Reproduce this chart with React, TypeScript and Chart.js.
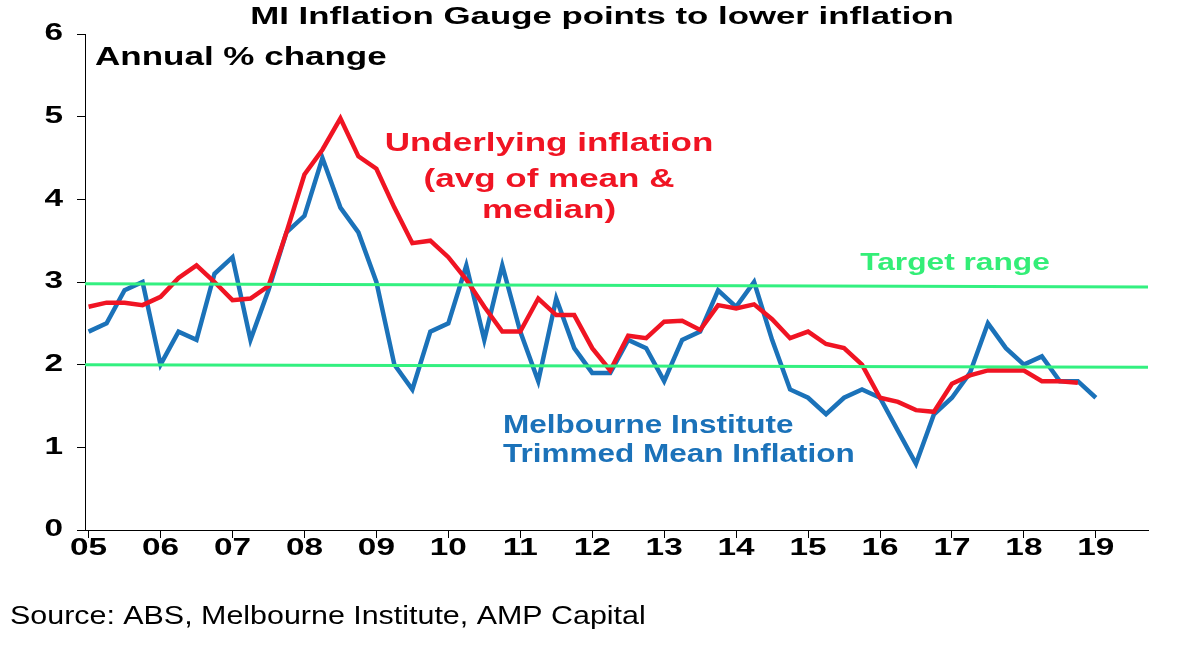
import React, { useEffect, useRef } from "react";
import { Chart, registerables } from "chart.js";
Chart.register(...registerables);

const yearLabels = ["05","06","07","08","09","10","11","12","13","14","15","16","17","18","19"];
const yLabels = ["0","1","2","3","4","5","6"];
const trimmedMean = [2.4,2.5,2.9,3.0, 2.0,2.4,2.3,3.1, 3.3,2.3,2.9,3.6, 3.8,4.5,3.9,3.6, 3.0,2.0,1.7,2.4, 2.5,3.2,2.3,3.2, 2.4,1.8,2.8,2.2, 1.9,1.9,2.3,2.2, 1.8,2.3,2.4,2.9, 2.7,3.0,2.3,1.7, 1.6,1.4,1.6,1.7, 1.6,1.2,0.8,1.4, 1.6,1.9,2.5,2.2, 2.0,2.1,1.8,1.8, 1.6];
const underlying = [2.7,2.75,2.75,2.72, 2.82,3.05,3.2,3.0, 2.78,2.8,2.95,3.6, 4.3,4.6,4.98,4.52, 4.37,3.9,3.47,3.5, 3.3,3.03,2.7,2.4, 2.4,2.8,2.6,2.6, 2.2,1.93,2.35,2.32, 2.52,2.53,2.42,2.72, 2.68,2.73,2.55,2.32, 2.4,2.25,2.2,2.0, 1.6,1.55,1.45,1.43, 1.77,1.87,1.93,1.93, 1.93,1.8,1.8,1.78];
const targetTop = [2.98, 2.94];
const targetBottom = [2.0, 1.97];

const FONT = "'Liberation Sans', Arial, sans-serif";

const textPlugin = {
  id: "texts",
  afterDraw(chart: any) {
    const c = chart.ctx;
    const t = (s: string, x: number, y: number, color: string, size: number, align: string, sx: number, bold = true) => {
      c.save();
      c.font = `${bold ? "bold " : ""}${size}px ${FONT}`;
      c.fillStyle = color;
      c.textBaseline = "middle";
      c.textAlign = "left";
      const w = c.measureText(s).width * sx;
      let x0 = x;
      if (align === "center") x0 = x - w / 2;
      else if (align === "right") x0 = x - w;
      c.translate(x0, y);
      c.scale(sx, 1);
      c.fillText(s, 0, 0);
      c.restore();
    };
    const xs = chart.scales.x, ys = chart.scales.y;
    yearLabels.forEach((l, i) => t(l, xs.getPixelForValue(i * 4), 549, "#000", 23, "center", 1.45));
    yLabels.forEach((l, i) => t(l, 63, ys.getPixelForValue(i), "#000", 23, "right", 1.45));
    t("MI Inflation Gauge points to lower inflation", 602, 17, "#000", 24, "center", 1.45);
    t("Annual % change", 95, 58, "#000", 25, "left", 1.4);
    const red = "#f01423";
    t("Underlying inflation", 549, 144, red, 25, "center", 1.4);
    t("(avg of mean &", 549, 180, red, 25, "center", 1.4);
    t("median)", 549, 211, red, 25, "center", 1.4);
    t("Target range", 955, 263, "#33ee77", 24, "center", 1.32);
    const blue = "#1b72b9";
    t("Melbourne Institute", 503, 426, blue, 25, "left", 1.26);
    t("Trimmed Mean Inflation", 503, 455, blue, 25, "left", 1.26);
    t("Source: ABS, Melbourne Institute, AMP Capital", 10, 617, "#000", 26, "left", 1.17, false);
  },
};

export default function App() {
  const ref = useRef<HTMLCanvasElement>(null);
  useEffect(() => {
    document.body.style.margin = "0";
    const xs = (arr: number[]) => arr.map((v, i) => ({ x: i, y: v }));
    const chart = new Chart(ref.current!, {
      type: "line",
      data: {
        datasets: [
          { data: [{ x: -0.2, y: targetTop[0] }, { x: 58.9, y: targetTop[1] }], borderColor: "#33f080", borderWidth: 3, pointRadius: 0 },
          { data: [{ x: -0.2, y: targetBottom[0] }, { x: 58.9, y: targetBottom[1] }], borderColor: "#33f080", borderWidth: 3, pointRadius: 0 },
          { data: xs(underlying), borderColor: "#f01423", borderWidth: 4.5, pointRadius: 0, tension: 0 },
          { data: xs(trimmedMean), borderColor: "#1b72b9", borderWidth: 4.5, pointRadius: 0, tension: 0 },
        ],
      },
      options: {
        animation: false,
        responsive: false,
        layout: { padding: { top: 34, right: 36, bottom: 80, left: 0 } },
        plugins: { legend: { display: false }, tooltip: { enabled: false }, title: { display: false } },
        scales: {
          x: {
            type: "linear",
            min: -0.2,
            max: 58.9,
            afterBuildTicks: (ax: any) => { ax.ticks = yearLabels.map((_, i) => ({ value: i * 4 })); },
            afterFit: (ax: any) => { ax.height = 45; },
            ticks: { display: false },
            grid: { drawOnChartArea: false, tickLength: 8, color: "#000" },
            border: { color: "#000", width: 1 },
          },
          y: {
            min: 0,
            max: 6,
            afterFit: (ax: any) => { ax.width = 85; },
            ticks: { stepSize: 1, display: false },
            grid: { drawOnChartArea: false, tickLength: 8, color: "#000" },
            border: { color: "#000", width: 1 },
          },
        },
      },
      plugins: [textPlugin],
    } as any);
    return () => chart.destroy();
  }, []);
  return <canvas ref={ref} width={1184} height={655} style={{ display: "block" }} />;
}
